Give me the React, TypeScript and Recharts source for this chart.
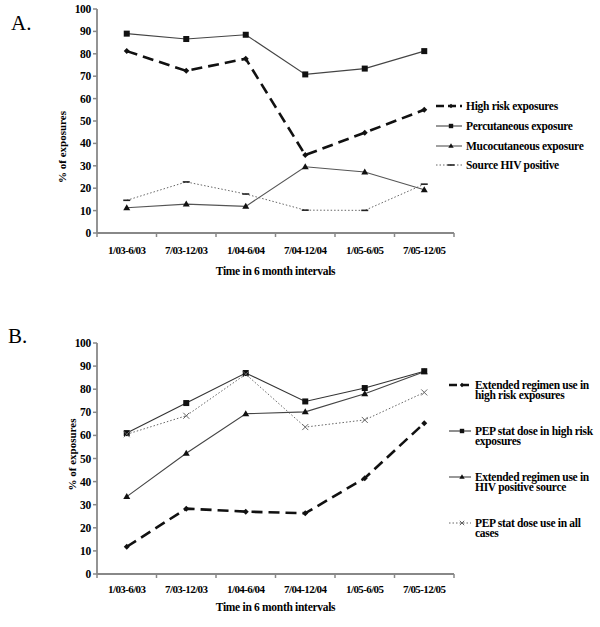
import React from 'react';
import { LineChart, Line, XAxis, YAxis, Label } from 'recharts';

const categories = ['1/03-6/03', '7/03-12/03', '1/04-6/04', '7/04-12/04', '1/05-6/05', '7/05-12/05'];
const yTicks = [0, 10, 20, 30, 40, 50, 60, 70, 80, 90, 100];

// Panel A
const highRisk = [81.2, 72.4, 77.8, 34.8, 44.8, 55];
const percutaneous = [89, 86.6, 88.5, 70.8, 73.4, 81.2];
const mucocutaneous = [11.3, 12.9, 11.9, 29.6, 27.2, 19.3];
const sourceHiv = [14.6, 22.8, 17.4, 10.2, 10.1, 21.8];

// Panel B
const extendedHighRisk = [11.8, 28.3, 27, 26.3, 41.5, 65.3];
const pepHighRisk = [61, 74, 87, 74.7, 80.5, 87.8];
const extendedHiv = [33.5, 52.3, 69.4, 70.2, 78, 87.6];
const pepAll = [60.5, 68.5, 86.5, 63.6, 66.7, 78.6];

type Kind = 'diamond' | 'square' | 'triangle' | 'dash' | 'cross';
interface Series {
  key: string;
  name: string;
  values: number[];
  kind: Kind;
  stroke: string;
  width: number;
  dash?: string;
}

const seriesA: Series[] = [
  { key: 'highRisk', name: 'High risk exposures', values: highRisk, kind: 'diamond', stroke: '#111', width: 2.6, dash: '11 6' },
  { key: 'percutaneous', name: 'Percutaneous exposure', values: percutaneous, kind: 'square', stroke: '#444', width: 1.1 },
  { key: 'mucocutaneous', name: 'Mucocutaneous exposure', values: mucocutaneous, kind: 'triangle', stroke: '#555', width: 1.1 },
  { key: 'sourceHiv', name: 'Source HIV positive', values: sourceHiv, kind: 'dash', stroke: '#666', width: 1, dash: '1.5 2' },
];

const seriesB: Series[] = [
  { key: 'extHigh', name: 'Extended regimen use in high risk exposures', values: extendedHighRisk, kind: 'diamond', stroke: '#111', width: 2.6, dash: '11 6' },
  { key: 'pepHigh', name: 'PEP stat dose in high risk exposures', values: pepHighRisk, kind: 'square', stroke: '#333', width: 1.1 },
  { key: 'extHiv', name: 'Extended regimen use in HIV positive source', values: extendedHiv, kind: 'triangle', stroke: '#444', width: 1.1 },
  { key: 'pepAll', name: 'PEP stat dose use in all cases', values: pepAll, kind: 'cross', stroke: '#666', width: 1, dash: '1.5 2' },
];

const buildRows = (series: Series[]) =>
  categories.map((c, i) => {
    const row: Record<string, any> = { name: c };
    series.forEach((s) => (row[s.key] = s.values[i]));
    return row;
  });

const FONT = '"Liberation Serif", "Times New Roman", serif';

function Marker({ cx, cy, kind, small }: { cx: number; cy: number; kind: Kind; small?: boolean }) {
  if (cx == null || cy == null) return null;
  const r = small ? 2.2 : 3;
  switch (kind) {
    case 'diamond':
      return <polygon points={`${cx},${cy - r} ${cx + r},${cy} ${cx},${cy + r} ${cx - r},${cy}`} fill="#111" />;
    case 'square':
      return <rect x={cx - r} y={cy - r} width={2 * r} height={2 * r} fill="#111" />;
    case 'triangle':
      return <polygon points={`${cx},${cy - r - 0.5} ${cx + r + 0.5},${cy + r - 0.5} ${cx - r - 0.5},${cy + r - 0.5}`} fill="#111" />;
    case 'dash':
      return <line x1={cx - 3.5} y1={cy} x2={cx + 3.5} y2={cy} stroke="#222" strokeWidth={1.6} />;
    case 'cross':
      return (
        <g stroke="#666" strokeWidth={1}>
          <line x1={cx - r} y1={cy - r} x2={cx + r} y2={cy + r} />
          <line x1={cx - r} y1={cy + r} x2={cx + r} y2={cy - r} />
        </g>
      );
  }
  return null;
}

// category label at band centre, tick marks at the band edges
const CategoryTick = ({ x, y, payload, index, visibleTicksCount, dy }: any) => {
  const half = payload.offset || 0;
  const isLast = index === (visibleTicksCount ?? categories.length) - 1;
  return (
    <g>
      <line x1={x - half} y1={y - 6} x2={x - half} y2={y - 2} stroke="#888" strokeWidth={1.5} />
      {isLast && <line x1={x + half} y1={y - 6} x2={x + half} y2={y - 2} stroke="#888" strokeWidth={1.5} />}
      <text x={x} y={y + dy} textAnchor="middle" fontFamily={FONT} fontWeight="bold" fontSize={11} letterSpacing={-0.6} fill="#000">
        {payload.value}
      </text>
    </g>
  );
};

const XTitle = ({ viewBox, dy }: any) => {
  const { x, y, width } = viewBox;
  return (
    <text x={x + width / 2} y={y + dy} textAnchor="middle" fontFamily={FONT} fontWeight="bold" fontSize={11.5} letterSpacing={-0.3} fill="#000">
      Time in 6 month intervals
    </text>
  );
};

const YTitle = ({ viewBox, cxPos, dy }: any) => {
  const { y, height } = viewBox;
  const cy = y + height / 2 + dy;
  return (
    <text x={cxPos} y={cy} transform={`rotate(-90 ${cxPos} ${cy})`} textAnchor="middle" dominantBaseline="central" fontFamily={FONT} fontWeight="bold" fontSize={11} fill="#000">
      % of exposures
    </text>
  );
};

interface PanelProps {
  series: Series[];
  height: number;
  axisHeight: number;
  xTitleDy: number;
  yTitleX: number;
  yTitleDy: number;
  tickDy: number;
}

function Panel({ series, height, axisHeight, xTitleDy, yTitleX, yTitleDy, tickDy }: PanelProps) {
  const rows = buildRows(series);
  return (
    <LineChart width={600} height={height} data={rows} margin={{ top: 9, right: 146, left: 0, bottom: 0 }}>
      <XAxis
        dataKey="name"
        scale="band"
        height={axisHeight}
        axisLine={{ stroke: '#888', strokeWidth: 1.8 }}
        tickLine={false}
        tickSize={4}
        interval={0}
        tick={(p: any) => <CategoryTick {...p} dy={tickDy} />}
      >
        <Label content={(p: any) => <XTitle {...p} dy={xTitleDy} />} />
      </XAxis>
      <YAxis
        width={97}
        domain={[0, 100]}
        ticks={yTicks}
        interval={0}
        axisLine={{ stroke: '#888', strokeWidth: 1.8 }}
        tickLine={{ stroke: '#888', strokeWidth: 1.5 }}
        tickSize={4}
        tick={{ fontFamily: FONT, fontWeight: 'bold', fontSize: 11.5, fill: '#000', letterSpacing: -0.3 }}
      >
        <Label content={(p: any) => <YTitle {...p} cxPos={yTitleX} dy={yTitleDy} />} />
      </YAxis>
      {series.map((s) => (
        <Line
          key={s.key}
          dataKey={s.key}
          name={s.name}
          type="linear"
          stroke={s.stroke}
          strokeWidth={s.width}
          strokeDasharray={s.dash}
          isAnimationActive={false}
          dot={(p: any) => <Marker key={`${s.key}-${p.index}`} cx={p.cx} cy={p.cy} kind={s.kind} />}
          activeDot={false}
        />
      ))}
    </LineChart>
  );
}

function LegendBlock({ series, left, top, rowGap, sample, width }: { series: Series[]; left: number; top: number; rowGap: number; sample: number; width: number }) {
  return (
    <div style={{ position: 'absolute', left, top }}>
      {series.map((s, i) => (
        <div key={s.key} style={{ position: 'absolute', top: i * rowGap, left: 0, display: 'flex', alignItems: 'flex-start' }}>
          <svg width={sample + 4} height={12} style={{ flex: 'none' }}>
            <line x1={0} y1={6} x2={sample} y2={6} stroke={s.stroke} strokeWidth={s.width} strokeDasharray={s.dash ? (s.width > 2 ? '8 4' : '1.5 2') : undefined} />
            <Marker cx={sample / 2 + 2} cy={6} kind={s.kind} small />
          </svg>
          <div style={{ width, fontFamily: FONT, fontWeight: 'bold', fontSize: 11.5, lineHeight: '10px', letterSpacing: -0.3, color: '#000', paddingTop: 1 }}>{s.name}</div>
        </div>
      ))}
    </div>
  );
}

export default function App() {
  return (
    <div style={{ position: 'absolute', left: 0, top: 0, width: 600, height: 627, background: '#fff', overflow: 'hidden' }}>
      <div style={{ position: 'absolute', left: 11, top: 11, fontFamily: FONT, fontSize: 21, color: '#000' }}>A.</div>
      <div style={{ position: 'absolute', left: 8, top: 324, fontFamily: FONT, fontSize: 21, color: '#000' }}>B.</div>
      <div style={{ position: 'absolute', left: 0, top: 0 }}>
        <Panel series={seriesA} height={300} axisHeight={67} xTitleDy={42} yTitleX={62} yTitleDy={26} tickDy={15} />
      </div>
      <div style={{ position: 'absolute', left: 0, top: 334 }}>
        <Panel series={seriesB} height={293} axisHeight={53} xTitleDy={37} yTitleX={72} yTitleDy={-4} tickDy={13} />
      </div>
      <LegendBlock series={seriesA} left={436} top={100} rowGap={19.8} sample={26} width={140} />
      <LegendBlock series={seriesB} left={449} top={379} rowGap={46} sample={22} width={122} />
    </div>
  );
}
